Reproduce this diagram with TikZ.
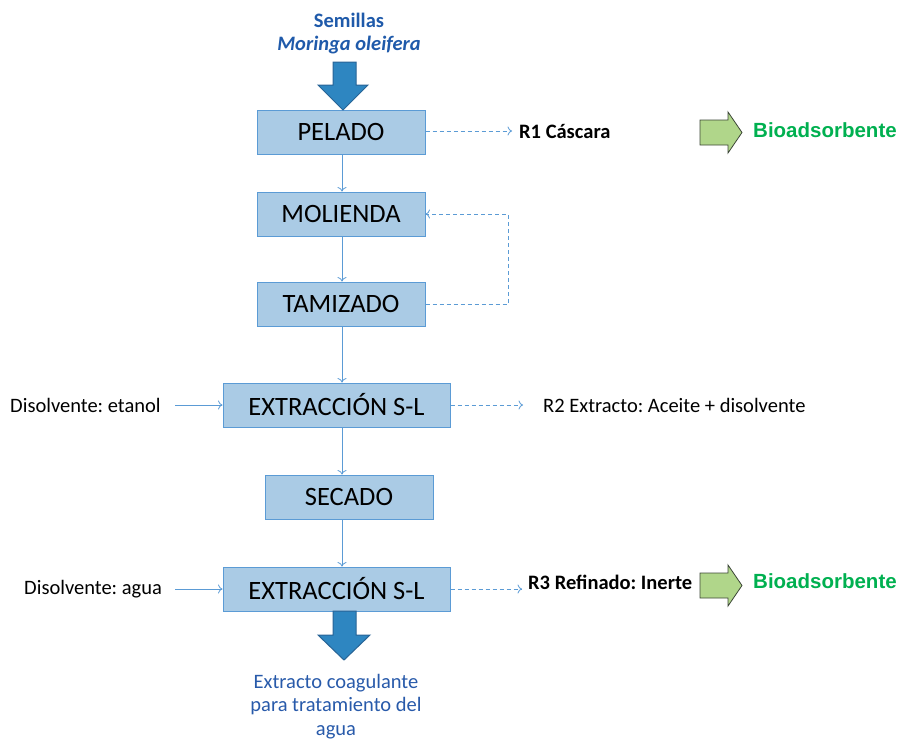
\documentclass[tikz,border=0pt]{standalone}
\usepackage{fontspec}
\setmainfont{Carlito}
\newfontfamily\arialbold[BoldFont={* Bold}]{Liberation Sans}
\usetikzlibrary{arrows.meta}
\frenchspacing
\definecolor{boxfill}{RGB}{170,203,229}
\definecolor{boxline}{RGB}{91,155,213}
\definecolor{flowline}{RGB}{91,155,213}
\definecolor{bigfill}{RGB}{46,134,193}
\definecolor{bigline}{RGB}{40,100,150}
\definecolor{titleblue}{RGB}{31,90,170}
\definecolor{outblue}{RGB}{40,90,170}
\definecolor{greentext}{RGB}{0,176,80}
\definecolor{greenfill}{RGB}{176,214,138}
\definecolor{greenline}{RGB}{60,70,55}
\begin{document}
\begin{tikzpicture}[x=1pt,y=-1pt,
  stage/.style={draw=boxline, fill=boxfill, line width=1pt, minimum height=44pt,
    inner sep=0pt, font=\fontsize{26.5}{28}\selectfont},
  flow/.style={draw=flowline, line width=0.8pt, -{To[length=4.5pt,width=9pt]}},
  waste/.style={draw=flowline, line width=0.8pt, dash pattern=on 4pt off 3pt,
    -{To[length=4.5pt,width=9pt]}},
  small/.style={font=\fontsize{20.5}{22}\selectfont, inner sep=0pt},
  smallbold/.style={font=\fontsize{20.5}{22}\selectfont\bfseries, inner sep=0pt},
  greenlabel/.style={font=\arialbold\fontsize{20.5}{22}\selectfont\bfseries, text=greentext, inner sep=0pt},
  bigarrow/.style={draw=bigline, fill=bigfill, line width=1pt, line join=miter},
  greenarrow/.style={draw=greenline, fill=greenfill, line width=0.8pt, line join=miter}
]
\useasboundingbox (0,0) rectangle (899,740);

% process stages
\node[stage, minimum width=168pt] (pel) at (341,132) {PELADO};
\node[stage, minimum width=168pt] (mol) at (341,214) {MOLIENDA};
\node[stage, minimum width=168pt] (tam) at (341,304) {TAMIZADO};
\node[stage, minimum width=227pt] (ex1) at (336.5,405) {EXTRACCIÓN S-L};
\node[stage, minimum width=168pt] (sec) at (349,497) {SECADO};
\node[stage, minimum width=227pt] (ex2) at (336.5,589) {EXTRACCIÓN S-L};

% feed
\node[font=\fontsize{20.5}{22}\selectfont\bfseries, text=titleblue, inner sep=0pt] (sem) at (349,20) {Semillas};
\node[font=\fontsize{20.5}{22}\selectfont\itshape\bfseries, text=titleblue, inner sep=0pt] (mor) at (349,45) {Moringa oleifera};
\draw[bigarrow] (333,62) -- (356,62) -- (356,85) -- (368,85) -- (343,110) -- (318,85) -- (333,85) -- cycle;

% product
\draw[bigarrow] (333,611) -- (356,611) -- (356,635) -- (370,635) -- (344,660) -- (318,635) -- (333,635) -- cycle;
\node[font=\fontsize{20.5}{23.5}\selectfont, text=outblue, align=center, anchor=north, inner sep=0pt] (prod) at (336,674)
  {Extracto coagulante\\para tratamiento del\\agua};

% main flow
\draw[flow] (pel.south -| 342,0) -- (mol.north -| 342,0);
\draw[flow] (mol.south -| 342,0) -- (tam.north -| 342,0);
\draw[flow] (tam.south -| 342,0) -- (ex1.north -| 342,0);
\draw[flow] (ex1.south -| 342,0) -- (sec.north -| 342,0);
\draw[flow] (sec.south -| 342,0) -- (ex2.north -| 342,0);

% solvents
\node[small, anchor=west] (sol1) at (10,405) {Disolvente: etanol};
\node[small, anchor=west] (sol2) at (24,589) {Disolvente: agua};
\draw[flow] (175,405) -- (ex1.west);
\draw[flow] (175,589) -- (ex2.west);

% side streams
\node[smallbold, anchor=west] (r1) at (519,131) {R1 Cáscara};
\node[small, anchor=west] (r2) at (543,405) {R2 Extracto: Aceite + disolvente};
\node[smallbold, anchor=west] (r3) at (528,582) {R3 Refinado: Inerte};
\draw[waste] (pel.east |- 0,131) -- (512,131);
\draw[waste] (ex1.east) -- (523,405);
\draw[waste] (ex2.east) -- (522,589);

% recycle of oversize
\coordinate (rec) at (508,304);
\draw[waste] (tam.east) -- (rec) -- (508,214) -- (mol.east);

% uses of residues
\draw[greenarrow] (700,120) -- (728,120) -- (728,112) -- (742,132.5) -- (728,153) -- (728,145) -- (700,145) -- cycle;
\draw[greenarrow] (700,573) -- (728,573) -- (728,565) -- (742,585.5) -- (728,606) -- (728,598) -- (700,598) -- cycle;
\node[greenlabel, anchor=west] (b1) at (753,130) {Bioadsorbente};
\node[greenlabel, anchor=west] (b2) at (753,581) {Bioadsorbente};
\end{tikzpicture}
\end{document}
